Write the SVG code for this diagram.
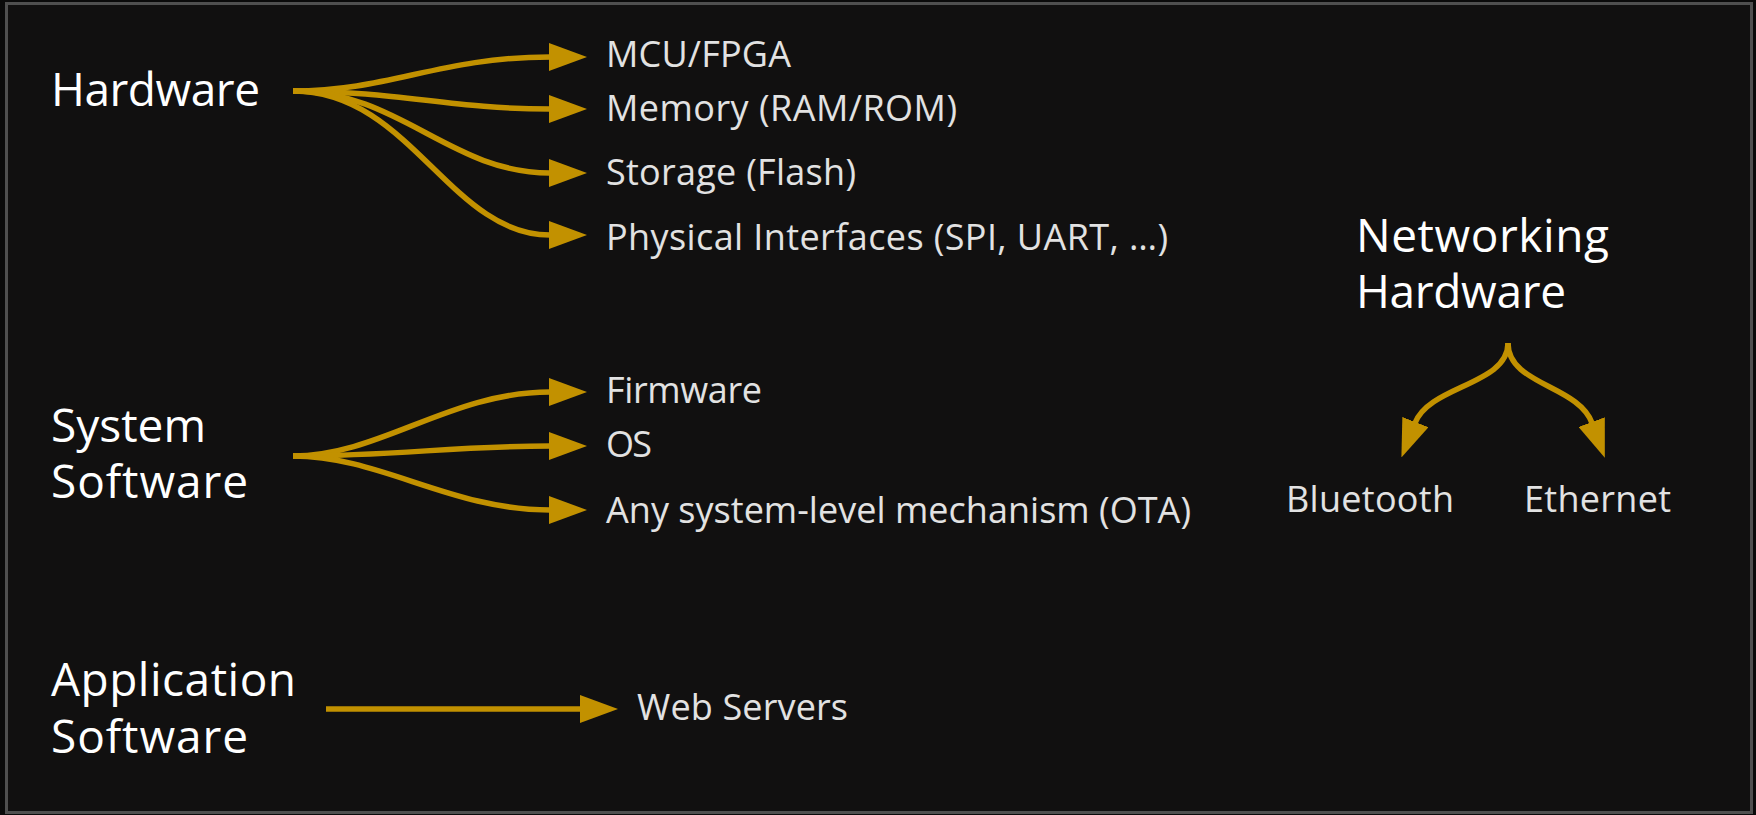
<svg xmlns="http://www.w3.org/2000/svg" width="1756" height="815" viewBox="0 0 1756 815">
  <defs>
    <marker id="ah" viewBox="0 0 38 28" markerWidth="38" markerHeight="28" refX="1" refY="14" orient="auto" markerUnits="userSpaceOnUse">
      <path d="M0,0 L38,14 L0,28 z" fill="#c29100"/>
    </marker>
    <style>
      .head { font-family: "Open Sans", "Noto Sans", sans-serif; font-size: 46px; fill: #ffffff; }
      .lbl { font-family: "Open Sans", "Noto Sans", sans-serif; font-size: 36px; fill: #e2e2e2; }
      .conn { fill: none; stroke: #c29100; stroke-width: 5.5; marker-end: url(#ah); }
    </style>
  </defs>
  <rect x="0" y="0" width="1756" height="815" fill="#0a0a0a"/>
  <rect x="6.5" y="3.5" width="1745" height="809" fill="#111010" stroke="#4f4f4f" stroke-width="3"/>

  <g id="connectors">
    <path class="conn" d="M293,91 C390,91 440,57 550,57"/>
    <path class="conn" d="M293,91 C400,91 450,109 550,109"/>
    <path class="conn" d="M293,91 C400,91 450,173 550,173"/>
    <path class="conn" d="M293,91 C410,91 450,235 550,235"/>
    <path class="conn" d="M293,456 C380,456 450,392 550,392"/>
    <path class="conn" d="M293,456 C400,456 450,446 550,446"/>
    <path class="conn" d="M293,456 C380,456 450,510 550,510"/>
    <path class="conn" d="M326,709 L581,709"/>
    <path class="conn" stroke-width="5" d="M1508,343 C1508,385 1430,385 1415,423"/>
    <path class="conn" stroke-width="5" d="M1508,343 C1508,385 1578,385 1592,423"/>
  </g>

  <g id="hardware"><text class="head" x="51" y="106" textLength="209">Hardware</text></g>
  <g id="mcu"><text class="lbl" x="606" y="67" textLength="185">MCU/FPGA</text></g>
  <g id="memory"><text class="lbl" x="606" y="121" textLength="351">Memory (RAM/ROM)</text></g>
  <g id="storage"><text class="lbl" x="606" y="185" textLength="250">Storage (Flash)</text></g>
  <g id="physical"><text class="lbl" x="606" y="250" textLength="562">Physical Interfaces (SPI, UART, …)</text></g>

  <g id="system-software"><text class="head" x="51" y="442" textLength="155">System</text><text class="head" x="51" y="498" textLength="197">Software</text></g>
  <g id="firmware"><text class="lbl" x="606" y="403" textLength="156">Firmware</text></g>
  <g id="os"><text class="lbl" x="606" y="457" textLength="46">OS</text></g>
  <g id="ota"><text class="lbl" x="606" y="523" textLength="585">Any system-level mechanism (OTA)</text></g>

  <g id="application-software"><text class="head" x="51" y="696" textLength="245">Application</text><text class="head" x="51" y="753" textLength="197">Software</text></g>
  <g id="web-servers"><text class="lbl" x="637" y="720" textLength="211">Web Servers</text></g>

  <g id="networking-hardware"><text class="head" x="1356" y="252" textLength="253">Networking</text><text class="head" x="1356" y="308" textLength="210">Hardware</text></g>
  <g id="bluetooth"><text class="lbl" x="1286" y="512" textLength="168">Bluetooth</text></g>
  <g id="ethernet"><text class="lbl" x="1524" y="512" textLength="147">Ethernet</text></g>
</svg>
